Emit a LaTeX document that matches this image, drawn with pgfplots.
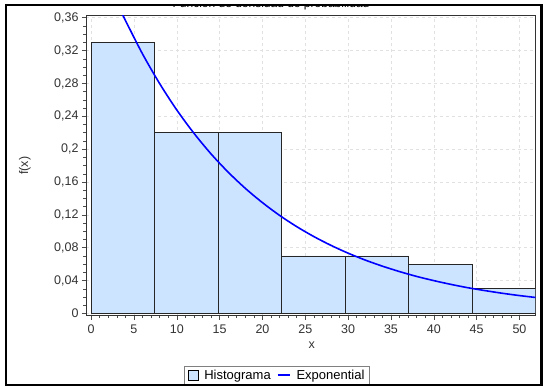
\documentclass[border=0pt]{standalone}
\usepackage{fontspec}
\setmainfont{Liberation Sans}
\usepackage{pgfplots}
\pgfplotsset{compat=1.18}
\definecolor{barfill}{RGB}{204,228,255}
\definecolor{gridc}{RGB}{225,225,225}
\begin{document}
\begin{tikzpicture}[x=1pt,y=1pt]
\useasboundingbox (0,0) rectangle (543,387);
\clip (0,0) rectangle (543,387);
\fill[white] (0,0) rectangle (543,387);
\node[font=\fontsize{12}{14}\selectfont, anchor=base] at (271,379.5) {Función de densidad de probabilidad};
\fill[white] (0,380.5) rectangle (543,387);
\begin{axis}[
  at={(86pt,71.3pt)}, anchor=south west,
  scale only axis, width=449.5pt, height=300pt,
  xmin=-0.6, xmax=51.87, ymin=-0.0027, ymax=0.3625,
  xtick={0,5,10,15,20,25,30,35,40,45,50},
  xticklabels={0,5,10,15,20,25,30,35,40,45,50},
  ytick={0,0.04,0.08,0.12,0.16,0.2,0.24,0.28,0.32,0.36},
  yticklabels={0,{0,04},{0,08},{0,12},{0,16},{0,2},{0,24},{0,28},{0,32},{0,36}},
  minor x tick num=4, minor y tick num=3,
  tick align=outside, xtick pos=left, ytick pos=left,
  major tick length=4pt, minor tick length=2.5pt,
  every tick/.style={black!70, line width=0.6pt},
  grid=major,
  major grid style={gridc, dash pattern=on 3pt off 3pt, line width=0.6pt},
  axis line style={black!80, line width=0.8pt},
  ticklabel style={font=\fontsize{12.5}{14}\selectfont, text=black!80},
  xticklabel style={yshift=-1.5pt},
  xlabel={x}, ylabel={f(x)},
  xlabel style={font=\fontsize{12.5}{14}\selectfont, text=black!80, at={(axis description cs:0.502,-0.109)}, anchor=base},
  ylabel style={font=\fontsize{12.5}{14}\selectfont, text=black!80, at={(axis description cs:-0.136,0.5)}, anchor=center},
  legend columns=2,
  legend style={at={(axis description cs:0.425,-0.167)}, anchor=north, font=\fontsize{13}{15}\selectfont, draw=black!50, line width=0.6pt, inner xsep=3pt, inner ysep=2pt, column sep=4pt},
  legend cell align=left,
  clip=true,
]
\addplot[ybar interval, fill=barfill, draw=black!85, line width=0.8pt,
  legend image code/.code={\draw[fill=barfill, draw=black, line width=0.7pt] (0pt,-4.5pt) rectangle (10pt,5pt);}] coordinates {
  (0,0.33) (7.41,0.22) (14.82,0.22) (22.23,0.07) (29.64,0.07) (37.05,0.06) (44.46,0.03) (51.87,0.03)
};
\addlegendentry{Histograma}
\addplot[blue, line width=1.6pt, smooth,
  legend image code/.code={\draw[blue, line width=1.8pt] (0pt,0.5pt) -- (12pt,0.5pt);}] coordinates {
  (3.5,0.3678) (4,0.3568) (6,0.3159) (8,0.2798) (10,0.2477) (12,0.2194) (14,0.1942)
  (16,0.1720) (18,0.1523) (20,0.1349) (22,0.1194) (24,0.1057) (26,0.0936) (28,0.0829)
  (30,0.0734) (32,0.0650) (34,0.0576) (36,0.0510) (38,0.0451) (40,0.0400) (42,0.0354)
  (44,0.0313) (46,0.0278) (48,0.0246) (50,0.0218) (51.87,0.0195)
};
\addlegendentry{Exponential}
\end{axis}
\draw[black, line width=2.2pt] (6,2) rectangle (541.5,382);
\end{tikzpicture}
\end{document}
